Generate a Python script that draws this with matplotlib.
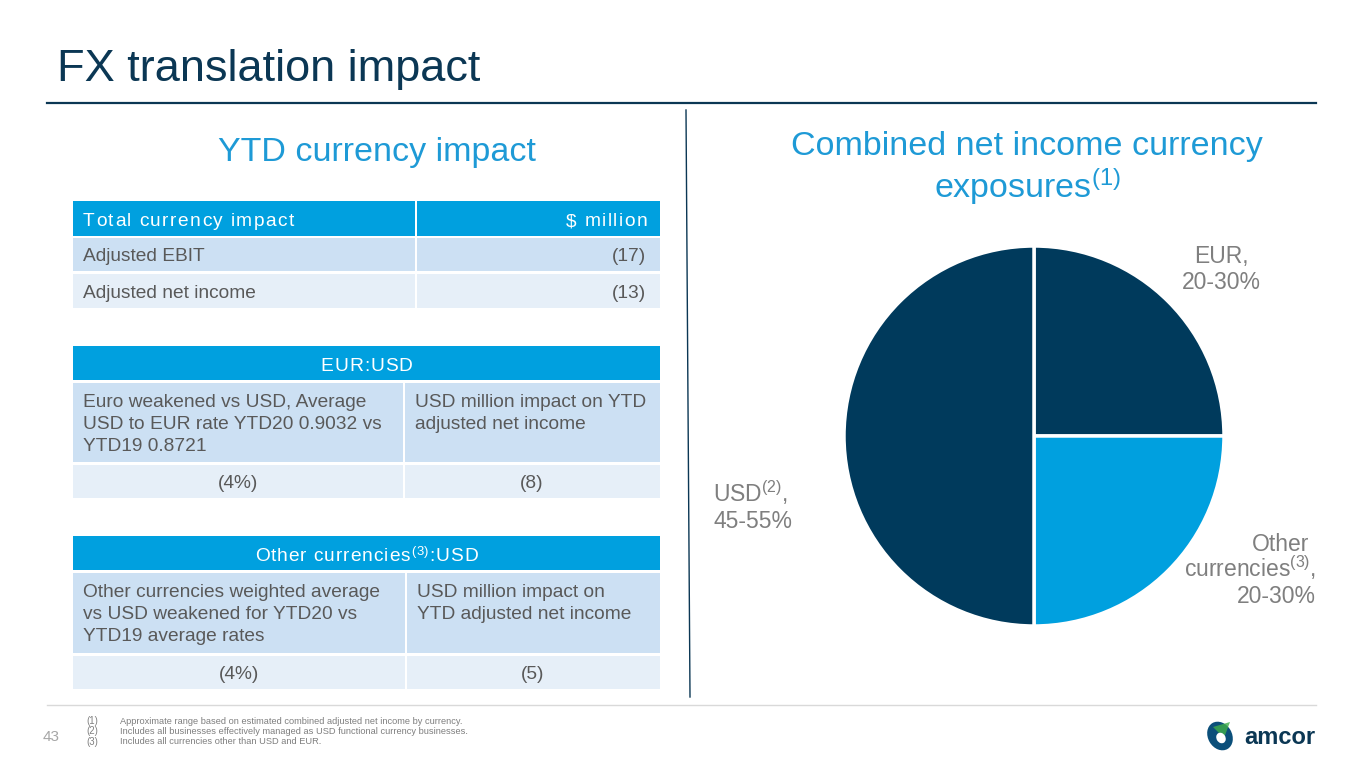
import matplotlib
matplotlib.use("Agg")
import matplotlib.pyplot as plt
from matplotlib.patches import Rectangle, Ellipse, Polygon
from matplotlib.font_manager import FontProperties

plt.rcParams['font.family'] = ['Liberation Sans', 'DejaVu Sans']
plt.rcParams['mathtext.fontset'] = 'custom'
plt.rcParams['mathtext.rm'] = 'Liberation Sans'
plt.rcParams['mathtext.it'] = 'Liberation Sans'

# ---- data ----
title = "FX translation impact"
left_title = "YTD currency impact"
right_title = ["Combined net income currency", r"exposures$^{\mathregular{(1)}}$"]

t1_header = ["Total currency impact", "$ million"]
t1_rows = ["Adjusted EBIT", "Adjusted net income"]
t1_values = ["(17)", "(13)"]

t2_header = [("EUR:USD", False)]
t2_desc = ["Euro weakened vs USD, Average\nUSD to EUR rate YTD20 0.9032 vs\nYTD19 0.8721",
           "USD million impact on YTD\nadjusted net income"]
t2_values = ["(4%)", "(8)"]

t3_header = [("Other currencies", False), ("(3)", True), (":USD", False)]
t3_desc = ["Other currencies weighted average\nvs USD weakened for YTD20 vs\nYTD19 average rates",
           "USD million impact on\nYTD adjusted net income"]
t3_values = ["(4%)", "(5)"]

pie_labels = ["EUR", "Other currencies", "USD"]
pie_values = [25, 25, 50]
pie_label_lines = [["EUR,", "20-30%"],
                   ["Other", r"currencies$^{\mathregular{(3)}}$,", "20-30%"],
                   [r"USD$^{\mathregular{(2)}}$,", "45-55%"]]

footnotes = ["Approximate range based on estimated combined adjusted net income by currency.",
             "Includes all businesses effectively managed as USD functional currency businesses.",
             "Includes all currencies other than USD and EUR."]
page_no = "43"

# ---- colours ----
NAVY = "#0B3754"
PIE_DARK = "#003A5C"
PIE_LIGHT = "#00A0DF"
HEAD = "#00A0DF"
ROW1 = "#CCE0F3"
ROW2 = "#E6EFF8"
TXT = "#595959"
LBL = "#7F7F7F"
ACCENT = "#1E9AD6"

fig = plt.figure(figsize=(13.65, 7.68), dpi=100)
ax = fig.add_axes([0, 0, 1, 1])
ax.set_xlim(0, 1365)
ax.set_ylim(768, 0)
ax.axis('off')
renderer = fig.canvas.get_renderer()

def adv(s, size):
    """advance width in pixels of string s at fontsize size."""
    fp = FontProperties(family='Liberation Sans', size=size)
    w1, _, _ = renderer.get_text_width_height_descent(s + "x", fp, ismath=False)
    w0, _, _ = renderer.get_text_width_height_descent("x", fp, ismath=False)
    return w1 - w0

def spaced(runs, x, y, size, color, ha='left', spacing=1.4):
    """Draw runs [(text, is_super)] with letter spacing (pixels)."""
    glyphs = []
    for text, sup in runs:
        sz = size * 0.68 if sup else size
        for ch in text:
            glyphs.append((ch, sz, sup))
    pos = []
    cur = 0.0
    for ch, sz, sup in glyphs:
        pos.append(cur)
        cur += adv(ch, sz) + spacing
    total = cur - spacing
    if ha == 'center':
        x0 = x - total / 2
    elif ha == 'right':
        x0 = x - total
    else:
        x0 = x
    for (ch, sz, sup), p in zip(glyphs, pos):
        if ch == ' ':
            continue
        ax.text(x0 + p, y - (6 if sup else 0), ch, fontsize=sz, color=color,
                ha='left', va='baseline')

# Title and rules
ax.text(57, 70, title, fontsize=32.5, color=NAVY, va='center', ha='left')
ax.plot([47, 1316], [103, 103], color=NAVY, lw=1.6)
ax.plot([686, 690], [110, 697], color=NAVY, lw=1.0)
ax.plot([47, 1316], [705, 705], color="#D9D9D9", lw=1.0)

ax.text(377, 152, left_title, fontsize=24.5, color=ACCENT, ha='center', va='center')
ax.text(1027, 146, right_title[0], fontsize=24.5, color=ACCENT, ha='center', va='center')
ax.text(1027, 187, right_title[1], fontsize=24.5, color=ACCENT, ha='center', va='center')

def cell(x0, x1, y0, y1, color):
    ax.add_patch(Rectangle((x0, y0), x1 - x0, y1 - y0, facecolor=color, edgecolor='none'))

FS = 13.8
LS = 1.4

# Table 1
L, R, S1 = 73, 660, 416
cell(L, S1 - 1, 201, 236, HEAD); cell(S1 + 1, R, 201, 236, HEAD)
spaced([(t1_header[0], False)], 83, 226, FS, 'white', ha='left')
spaced([(t1_header[1], False)], 647, 226, FS, 'white', ha='right')
row_y = [(238, 271), (274, 308)]
for (y0, y1), name, val, col in zip(row_y, t1_rows, t1_values, [ROW1, ROW2]):
    cell(L, S1 - 1, y0, y1, col); cell(S1 + 1, R, y0, y1, col)
    ym = (y0 + y1) / 2 + 2
    ax.text(83, ym, name, color=TXT, fontsize=FS, va='center', ha='left')
    ax.text(646, ym, val, color=TXT, fontsize=FS, va='center', ha='right')

def table3(y_head, y_r1, y_r2, split, header, desc, values):
    cell(L, R, y_head[0], y_head[1], HEAD)
    spaced(header, (L + R) / 2, y_head[0] + 25, FS, 'white', ha='center', spacing=0.9)
    cell(L, split - 1, y_r1[0], y_r1[1], ROW1); cell(split + 1, R, y_r1[0], y_r1[1], ROW1)
    cell(L, split - 1, y_r2[0], y_r2[1], ROW2); cell(split + 1, R, y_r2[0], y_r2[1], ROW2)
    ax.text(83, y_r1[0] + 11, desc[0], color=TXT, fontsize=FS, va='top', ha='left', linespacing=LS)
    ax.text(split + 11, y_r1[0] + 11, desc[1], color=TXT, fontsize=FS, va='top', ha='left', linespacing=LS)
    ym = (y_r2[0] + y_r2[1]) / 2 + 2
    ax.text((L + split) / 2, ym, values[0], color=TXT, fontsize=FS, va='center', ha='center')
    ax.text((split + R) / 2, ym, values[1], color=TXT, fontsize=FS, va='center', ha='center')

table3((346, 380), (383, 462), (465, 498), 404, t2_header, t2_desc, t2_values)
table3((536, 570), (573, 653), (656, 689), 406, t3_header, t3_desc, t3_values)

# Pie
cx, cy, r = 1034, 436, 190
pax = fig.add_axes([(cx - r) / 1365, (768 - cy - r) / 768, 2 * r / 1365, 2 * r / 768])
pax.pie(pie_values, colors=[PIE_DARK, PIE_LIGHT, PIE_DARK], startangle=90, counterclock=False,
        wedgeprops=dict(edgecolor='white', linewidth=2.5))
pax.set_xlim(-1, 1); pax.set_ylim(-1, 1)
pax.set_aspect('equal')
pax.axis('off')

label_pos = [(1221, 263, 'center'), (1316, 551, 'right'), (713, 502, 'left')]
for lines, (lx, ly, lha) in zip(pie_label_lines, label_pos):
    for i, line in enumerate(lines):
        xx = lx - 7 if (lha == 'right' and i == 0) else lx
        ax.text(xx, ly + 26 * i, line, color=LBL, fontsize=16.5, ha=lha, va='baseline')

# Footer
ax.text(43, 737, page_no, color="#A6A6A6", fontsize=11, ha='left', va='center')
for i, f in enumerate(footnotes):
    y = 721 + 10.5 * i
    ax.text(86, y, f"({i+1})", color=LBL, fontsize=6.9, ha='left', va='center')
    ax.text(120, y, f, color=LBL, fontsize=6.7, ha='left', va='center')

# Logo
ax.add_patch(Ellipse((1220, 736), 24, 30, angle=-30, facecolor="#0B4F7A", edgecolor='none'))
ax.add_patch(Polygon([[1213, 727], [1230, 722], [1224, 738]], closed=True,
                     facecolor="#3FAE49", edgecolor='none', alpha=0.8))
ax.add_patch(Ellipse((1221, 738), 9, 11, angle=-30, facecolor="white", edgecolor='none'))
ax.text(1244, 738, "amcor", color="#0B3754", fontsize=17, fontweight='bold', ha='left', va='center')

fig.savefig("out.png", dpi=100)
